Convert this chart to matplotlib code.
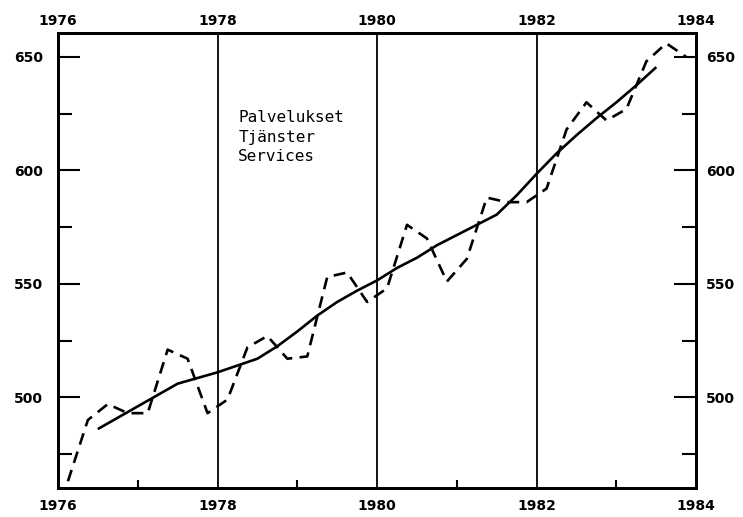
import matplotlib
matplotlib.use("Agg")
import matplotlib.pyplot as plt
from matplotlib.ticker import FixedLocator

# Quarterly series (dashed) - 1976Q1 .. 1983Q4, plotted at quarter midpoints
quarter_t = [1976.125 + 0.25 * i for i in range(32)]
quarterly = [
    463, 490, 497, 493,
    493, 521, 517, 493,
    499, 522, 527, 517,
    518, 553, 555, 542,
    548, 576, 570, 551,
    561, 588, 586, 586,
    592, 618, 630, 622,
    627, 648, 656, 650,
]

# Trend series (solid)
trend_t = [1976.5 + 0.25 * i for i in range(29)]
trend = [
    486, 491, 496, 501,
    506, 508.5, 511, 514,
    517, 522.5, 529, 536,
    542, 547, 551.5, 557,
    561.5, 567, 571.5, 576,
    580.5, 589, 598.5, 607.5,
    615.5, 623, 630, 637.5,
    645.5,
]

year_lines = [1978, 1980, 1982]
year_ticks = [1976, 1978, 1980, 1982, 1984]
odd_years = [1977, 1979, 1981, 1983]
y_ticks = [500, 550, 600, 650]
y_minor = [475, 525, 575, 625]
label_text = "Palvelukset\nTjänster\nServices"

XLIM = (1976, 1984)
YLIM = (460, 660.5)

fig = plt.figure(figsize=(7.43, 5.17), dpi=100)
ax = fig.add_axes([0.078, 0.056, 0.859, 0.880])

ax.plot(quarter_t, quarterly, color="black", linewidth=1.9,
        linestyle=(0, (4.5, 2.8)), dash_capstyle="butt")
ax.plot(trend_t, trend, color="black", linewidth=1.9, solid_capstyle="butt")

for yr in year_lines:
    ax.axvline(yr, color="black", linewidth=1.3)

ax.set_xlim(*XLIM)
ax.set_ylim(*YLIM)

for s in ax.spines.values():
    s.set_linewidth(2.0)

tick_font = dict(fontsize=10, fontweight="bold", family="DejaVu Sans")

# bottom / left
ax.xaxis.set_major_locator(FixedLocator(year_ticks))
ax.xaxis.set_minor_locator(FixedLocator(odd_years))
ax.yaxis.set_major_locator(FixedLocator(y_ticks))
ax.yaxis.set_minor_locator(FixedLocator(y_minor))
ax.set_xticklabels([str(y) for y in year_ticks], **tick_font)
ax.set_yticklabels([str(v) for v in y_ticks], **tick_font)
ax.tick_params(axis="x", which="major", length=0, pad=8)
ax.tick_params(axis="x", which="minor", direction="in", length=6, width=1.5,
               top=True, bottom=True)
ax.tick_params(axis="y", which="major", direction="in", length=16, width=1.5,
               pad=11)
ax.tick_params(axis="y", which="minor", direction="in", length=10, width=1.5)

# top labels
axt = ax.twiny()
axt.set_xlim(*XLIM)
axt.xaxis.set_major_locator(FixedLocator(year_ticks))
axt.set_xticklabels([str(y) for y in year_ticks], **tick_font)
axt.tick_params(axis="x", which="major", length=0, pad=3.5)
axt.tick_params(axis="x", which="minor", length=0)

# right side ticks and labels
axr = ax.twinx()
axr.set_ylim(*YLIM)
axr.yaxis.set_major_locator(FixedLocator(y_ticks))
axr.yaxis.set_minor_locator(FixedLocator(y_minor))
axr.set_yticklabels([str(v) for v in y_ticks], **tick_font)
axr.tick_params(axis="y", which="major", direction="in", length=16, width=1.5,
                pad=7)
axr.tick_params(axis="y", which="minor", direction="in", length=10, width=1.5)

for a in (axt, axr):
    for s in a.spines.values():
        s.set_linewidth(2.0)

ax.text(1978.26, 626.5, label_text, family="DejaVu Sans Mono", fontsize=11.5,
        va="top", ha="left", linespacing=1.38)

fig.savefig("out.png", dpi=100)
